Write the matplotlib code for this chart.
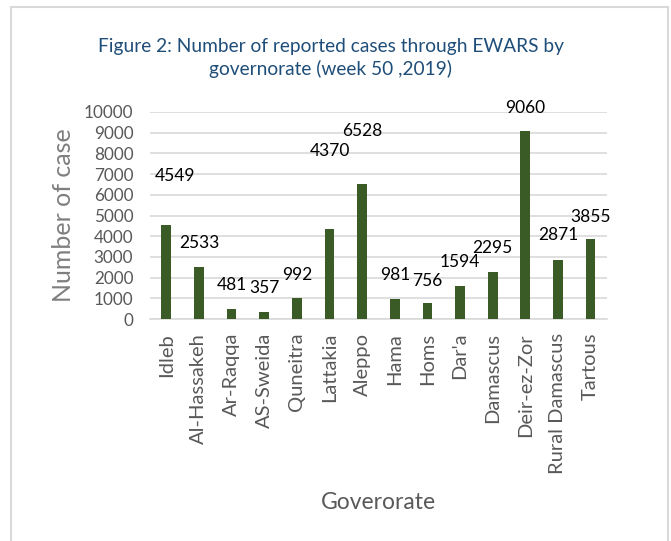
#bar chart of reported EWARS cases by governorate, week 50 2019

import numpy as np
import matplotlib.pyplot as plt
from matplotlib.patches import Rectangle

governorates = ['Idleb', 'Al-Hassakeh', 'Ar-Raqqa', 'AS-Sweida', 'Quneitra',
                'Lattakia', 'Aleppo', 'Hama', 'Homs', "Dar'a", 'Damascus',
                'Deir-ez-Zor', 'Rural Damascus', 'Tartous']
cases = [4549, 2533, 481, 357, 992, 4370, 6528, 981, 756, 1594, 2295,
         9060, 2871, 3855]
y_ticks = [0, 1000, 2000, 3000, 4000, 5000, 6000, 7000, 8000, 9000, 10000]

# label offsets above bar top (points), the excel labels were dragged a bit
label_offsets = [35, 17, 17, 17, 17, 56, 38, 17, 16, 17, 17, 17, 18, 16]
label_dx = [6, 0, 0, 0, 0, 0, 0, 0, 0, 0, 0, 0, 0, 0]

if __name__ == "__main__":
    plt.rcParams['font.family'] = ['Lato', 'DejaVu Sans']
    fig = plt.figure(figsize=(6.71, 5.41), dpi=100)
    ax = fig.add_axes([0.2235, 0.4103, 0.681, 0.3827])

    x = np.arange(len(governorates))
    ax.bar(x, cases, width=0.3, color='#3a5a26', zorder=3)

    for i, v in enumerate(cases):
        ax.annotate(str(v), (x[i], v), xytext=(label_dx[i], label_offsets[i]),
                    textcoords='offset points', ha='center', va='center',
                    fontsize=12.5, color='black')

    ax.set_ylim(0, 10000)
    ax.set_xlim(-0.5, len(governorates) - 0.5)
    ax.set_yticks(y_ticks)
    ax.set_yticklabels([str(t) for t in y_ticks], fontsize=12.3, color='#595959')
    ax.set_xticks(x)
    ax.set_xticklabels(governorates, rotation=90, fontsize=14.5, color='#595959')
    ax.tick_params(length=0)
    ax.tick_params(axis='y', pad=12)
    ax.tick_params(axis='x', pad=10)
    ax.yaxis.grid(True, color='#d9d9d9', linewidth=1.2, zorder=0)
    for s in ['top', 'right', 'left']:
        ax.spines[s].set_visible(False)
    ax.spines['bottom'].set_color('#d9d9d9')
    ax.spines['bottom'].set_linewidth(1.2)

    ax.set_ylabel('Number of case', fontsize=18, color='#7f7f7f', labelpad=6)
    ax.set_xlabel('Goverorate', fontsize=16.5, color='#595959', labelpad=13)

    fig.text(0.493, 0.893, 'Figure 2: Number of reported cases through EWARS by\ngovernorate (week 50 ,2019)',
             ha='center', va='center', fontsize=13.8, color='#1f4e79',
             linespacing=1.3)

    # chart border
    fig.patches.append(Rectangle((11 / 671, -0.05), 657 / 671, 1 - 7 / 541 + 0.05,
                                 transform=fig.transFigure, fill=False,
                                 edgecolor='#d9d9d9', linewidth=1.5))

    fig.savefig('out.png', dpi=100)
